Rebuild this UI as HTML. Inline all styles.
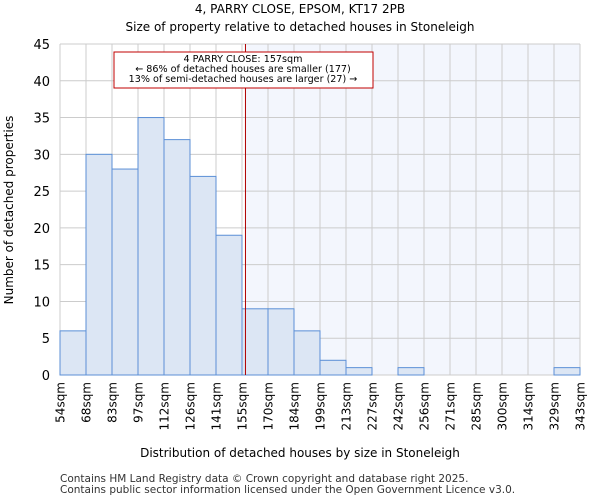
<!DOCTYPE html>
<html><head><meta charset="utf-8"><style>
body{margin:0;background:#fff;font-family:"DejaVu Sans","Liberation Sans",sans-serif}
</style></head><body>
<svg id="c" width="600" height="500" xmlns="http://www.w3.org/2000/svg" font-family="DejaVu Sans, Liberation Sans, sans-serif">
<text x="300" y="13" text-anchor="middle" font-size="12">4, PARRY CLOSE, EPSOM, KT17 2PB</text>
<text x="300" y="31" text-anchor="middle" font-size="12">Size of property relative to detached houses in Stoneleigh</text>
<g id="plot"></g>
<text x="300" y="457" text-anchor="middle" font-size="12">Distribution of detached houses by size in Stoneleigh</text>
<text transform="translate(13,210) rotate(-90)" text-anchor="middle" font-size="12">Number of detached properties</text>
<text x="60" y="482" font-size="10.5" fill="#333">Contains HM Land Registry data © Crown copyright and database right 2025.</text>
<text x="60" y="493" font-size="10.5" fill="#333">Contains public sector information licensed under the Open Government Licence v3.0.</text>
</svg>
<script>
const edges=[54,68,83,97,112,126,141,155,170,184,199,213,227,242,256,271,285,300,314,329,343];
const counts=[6,30,28,35,32,27,19,9,9,6,2,1,0,1,0,0,0,0,0,1];
const yTicks=[0,5,10,15,20,25,30,35,40,45];
const propertySize=157;
const NS="http://www.w3.org/2000/svg";
const L=60,R=580,T=44,B=375;
const xs=i=>L+(R-L)*i/(edges.length-1);
const xv=v=>{for(let i=0;i<edges.length-1;i++){if(v<=edges[i+1])return xs(i)+(v-edges[i])/(edges[i+1]-edges[i])*(xs(i+1)-xs(i));}return R;};
const y=v=>B-(B-T)*v/45;
const g=document.getElementById('plot');
function mk(t,a){const e=document.createElementNS(NS,t);for(const k in a)e.setAttribute(k,a[k]);g.appendChild(e);return e;}
const px=xv(propertySize);
let e=mk('rect',{x:px,y:T,width:R-px,height:B-T,fill:'#f3f6fd'});


yTicks.forEach(t=>{const l=mk('line',{x1:L,x2:R,y1:y(t),y2:y(t),stroke:'#ccc'});


const tx=mk('text',{x:L-10,y:y(t)+5,'text-anchor':'end','font-size':'13'});tx.textContent=t;

});
edges.forEach((v,i)=>{const l=mk('line',{x1:xs(i),x2:xs(i),y1:T,y2:B,stroke:'#ccc'});


const tx=mk('text',{transform:`translate(${xs(i)+4.5},382) rotate(-90)`,'text-anchor':'end','font-size':'12'});tx.textContent=v+'sqm';

});
counts.forEach((c,i)=>{if(c<=0)return;const r=mk('rect',{x:xs(i),y:y(c),width:xs(i+1)-xs(i),height:B-y(c),fill:'#dce6f4',stroke:'#5b8fd6'});

});
e=mk('line',{x1:px,x2:px,y1:T,y2:B,stroke:'#b00000','stroke-width':1});


e=mk('rect',{x:114,y:52,width:259,height:36,fill:'#fff',stroke:'#c00000'});


["4 PARRY CLOSE: 157sqm","← 86% of detached houses are smaller (177)","13% of semi-detached houses are larger (27) →"].forEach((s,i)=>{const t=mk('text',{x:243,y:62+i*10,'text-anchor':'middle','font-size':'9.6'});t.textContent=s;

});
</script>
</body></html>
